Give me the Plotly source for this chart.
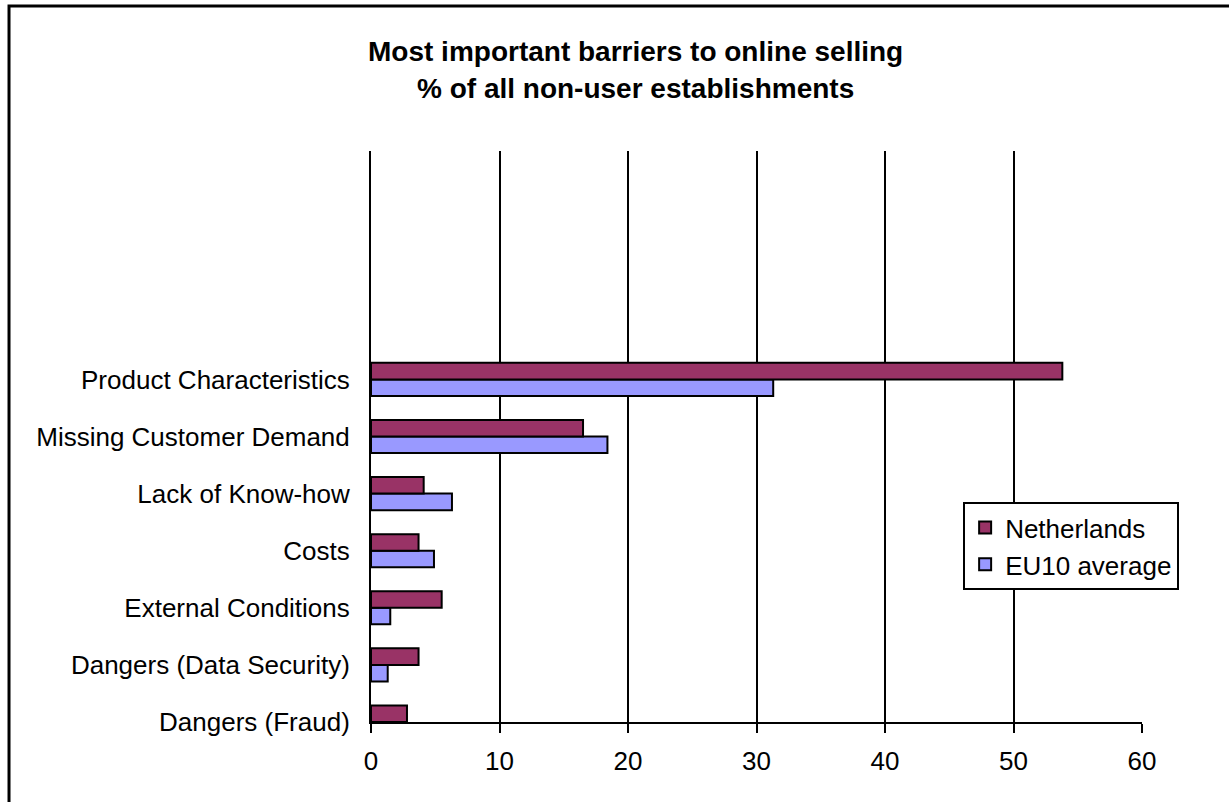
import plotly.graph_objects as go

# Barrier categories, bottom to top
categories = [
    "Dangers (Fraud)",
    "Dangers (Data Security)",
    "External Conditions",
    "Costs",
    "Lack of Know-how",
    "Missing Customer Demand",
    "Product Characteristics",
]
netherlands = [2.8, 3.7, 5.5, 3.7, 4.1, 16.5, 53.8]
eu10_average = [0.0, 1.3, 1.5, 4.9, 6.3, 18.4, 31.3]
x_ticks = [0, 10, 20, 30, 40, 50, 60]

title_lines = ["Most important barriers to online selling",
               "% of all non-user establishments"]

FONT = "Liberation Sans, Arial, sans-serif"
positions = list(range(len(categories)))

fig = go.Figure()
# EU10 first so that it sits below the Netherlands bar within each group
fig.add_trace(go.Bar(
    y=positions, x=eu10_average, orientation="h", name="EU10 average",
    marker=dict(color="#9999FF", line=dict(color="black", width=2)),
))
fig.add_trace(go.Bar(
    y=positions, x=netherlands, orientation="h", name="Netherlands",
    marker=dict(color="#993366", line=dict(color="black", width=2)),
))

fig.update_layout(
    width=1229, height=802,
    margin=dict(l=371, r=87, t=151, b=80),
    paper_bgcolor="white", plot_bgcolor="white",
    barmode="group", bargap=0.42, bargroupgap=0,
    font=dict(family=FONT, size=26, color="black"),
    showlegend=True,
    legend=dict(
        x=0.768, y=0.385, xanchor="left", yanchor="top",
        traceorder="reversed",
        bordercolor="black", borderwidth=2, bgcolor="white",
        font=dict(family=FONT, size=26, color="black"),
    ),
    xaxis=dict(
        range=[0, 60], tickvals=x_ticks, ticktext=[str(v) for v in x_ticks],
        showgrid=True, gridcolor="black", gridwidth=2,
        showline=True, linecolor="black", linewidth=2,
        ticks="outside", ticklen=9, tickwidth=2, tickcolor="black",
        ticklabelstandoff=6,
        zeroline=False, fixedrange=True,
        tickfont=dict(family=FONT, size=26, color="black"),
    ),
    yaxis=dict(
        range=[0, 10], tickvals=positions, ticktext=categories,
        showgrid=False, zeroline=False,
        showline=True, linecolor="black", linewidth=2,
        ticks="", ticklabelstandoff=14, fixedrange=True,
        tickfont=dict(family=FONT, size=26, color="black"),
    ),
    annotations=[
        dict(text="<b>%s</b>" % title_lines[0], x=0.3437, y=1.1734,
             xref="paper", yref="paper", showarrow=False,
             xanchor="center", yanchor="middle",
             font=dict(family=FONT, size=28, color="black")),
        dict(text="<b>%s</b>" % title_lines[1], x=0.3437, y=1.110,
             xref="paper", yref="paper", showarrow=False,
             xanchor="center", yanchor="middle",
             font=dict(family=FONT, size=28, color="black")),
    ],
    shapes=[
        # chart frame
        dict(type="rect", xref="paper", yref="paper",
             x0=-0.4695, y0=-0.5, x1=1.5, y1=1.2539,
             line=dict(color="black", width=3), fillcolor="rgba(0,0,0,0)",
             layer="below"),
    ],
)

fig.write_html("out.html")
